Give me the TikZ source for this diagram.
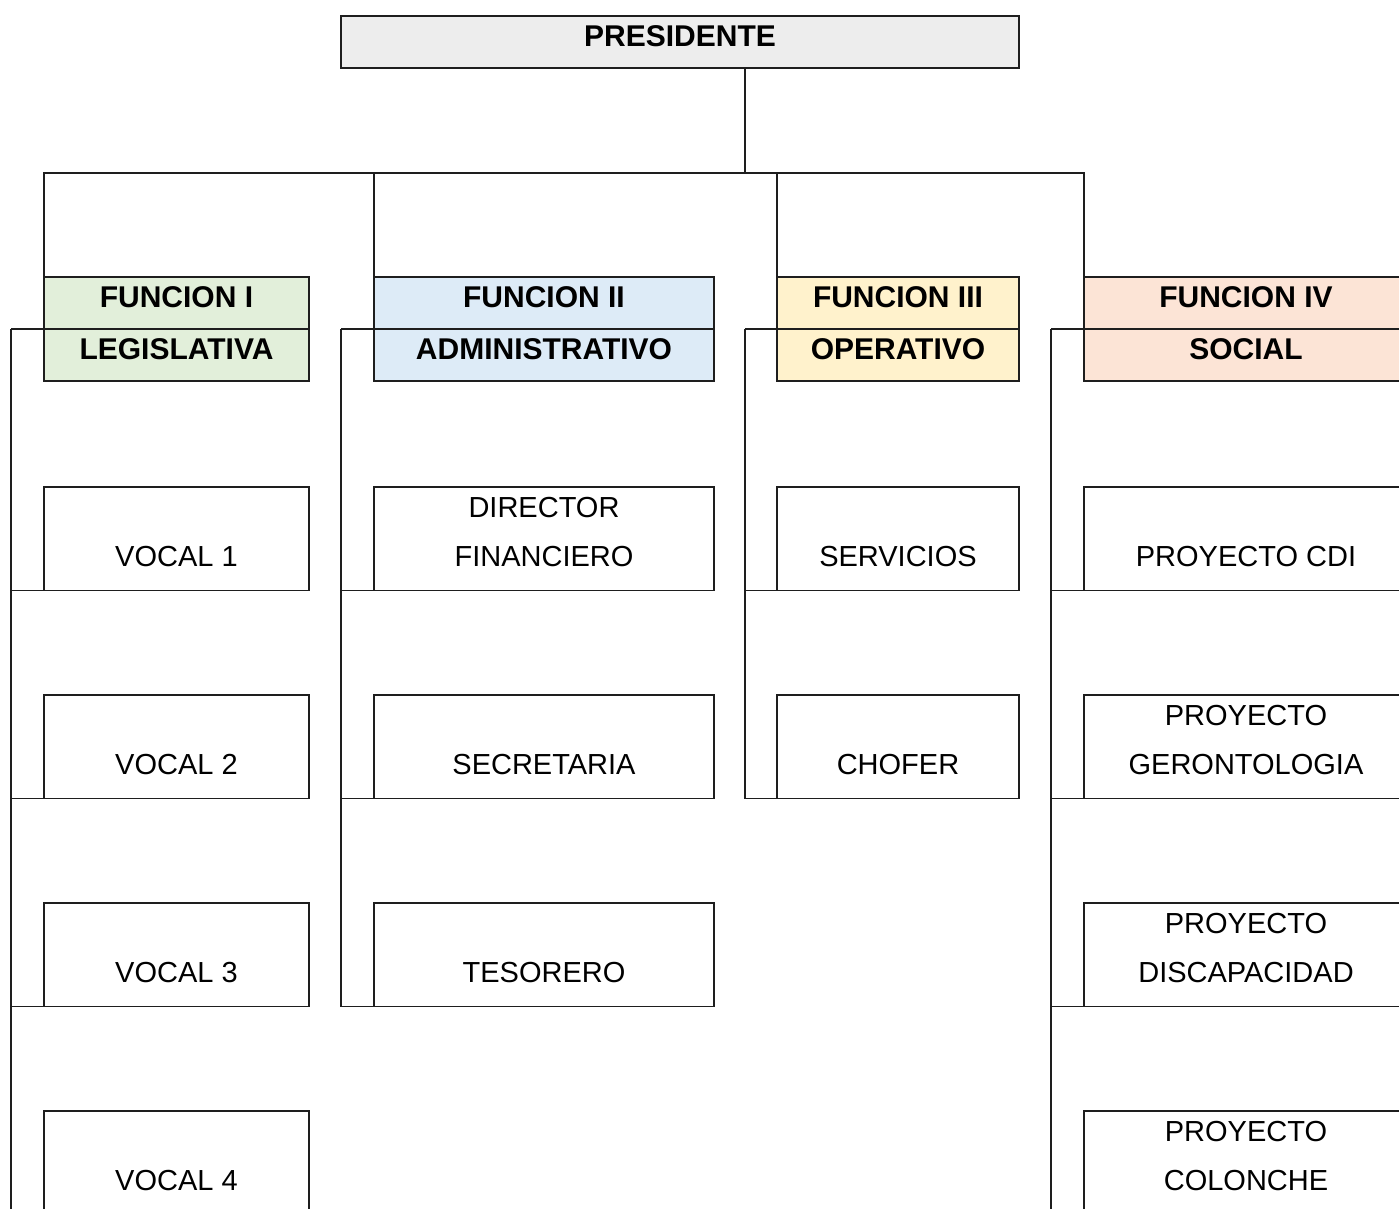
\documentclass[tikz,border=0pt]{standalone}
\usepackage{fontspec}
\setmainfont{Liberation Sans}
\usetikzlibrary{positioning}
\definecolor{presgray}{HTML}{EDEDED}
\definecolor{fungreen}{HTML}{E2EFDA}
\definecolor{funblue}{HTML}{DDEBF7}
\definecolor{funyellow}{HTML}{FFF2CC}
\definecolor{funpink}{HTML}{FCE4D6}
\definecolor{linegray}{HTML}{1E1E1E}
\tikzset{
	chief/.style={draw=linegray, rectangle, line width=1.8pt, outer sep=0pt, inner sep=2pt, minimum width=678pt, minimum height=52pt, fill=presgray, font=\bfseries\fontsize{30pt}{36pt}\selectfont, text height=22pt, text depth=13.2pt},
	funcion/.style={draw=linegray, rectangle, line width=1.8pt, outer sep=0pt, inner sep=2pt, minimum height=52pt, font=\bfseries\fontsize{30pt}{36pt}\selectfont, text height=22pt, text depth=13.2pt},
	% boxes of the people under each function
	cargo/.style={draw=linegray, rectangle, line width=1.8pt, outer sep=0pt, inner sep=2pt, minimum height=103.5pt, align=center, font=\fontsize{29pt}{49pt}\selectfont, text height=76pt, text depth=20pt},
	colI/.style={minimum width=265pt},
	colII/.style={minimum width=340pt},
	colIII/.style={minimum width=242pt},
	colIV/.style={minimum width=324pt},
}
\begin{document}
\begin{tikzpicture}[node distance=104.5pt]

\useasboundingbox (-680pt,42pt) rectangle (719pt,-1167pt);

\node (pres) [chief] {PRESIDENTE};

\node (funI) [funcion, colI, fill=fungreen, anchor=north west] at ([xshift=-297pt, yshift=-209pt]pres.south west) {FUNCION I};
\node (legis) [funcion, colI, fill=fungreen, below=0pt of funI] {LEGISLATIVA};

\node (funII) [funcion, colII, fill=funblue, right=65pt of funI] {FUNCION II};
\node (admin) [funcion, colII, fill=funblue, below=0pt of funII] {ADMINISTRATIVO};

\node (funIII) [funcion, colIII, fill=funyellow, right=63pt of funII] {FUNCION III};
\node (oper) [funcion, colIII, fill=funyellow, below=0pt of funIII] {OPERATIVO};

\node (funIV) [funcion, colIV, fill=funpink, right=65pt of funIII] {FUNCION IV};
\node (social) [funcion, colIV, fill=funpink, below=0pt of funIV] {SOCIAL};

\node (vocal1) [cargo, colI, below=106pt of legis] {VOCAL 1};
\node (vocal2) [cargo, colI, below=of vocal1] {VOCAL 2};
\node (vocal3) [cargo, colI, below=of vocal2] {VOCAL 3};
\node (vocal4) [cargo, colI, below=of vocal3] {VOCAL 4};

\node (director) [cargo, colII, below=106pt of admin] {DIRECTOR\\FINANCIERO};
\node (secre) [cargo, colII, below=of director] {SECRETARIA};
\node (teso) [cargo, colII, below=of secre] {TESORERO};

\node (serv) [cargo, colIII, below=106pt of oper] {SERVICIOS};
\node (chofer) [cargo, colIII, below=of serv] {CHOFER};

\node (cdi) [cargo, colIV, below=106pt of social] {PROYECTO CDI};
\node (geront) [cargo, colIV, below=of cdi] {PROYECTO\\GERONTOLOGIA};
\node (discap) [cargo, colIV, below=of geront] {PROYECTO\\DISCAPACIDAD};
\node (colonche) [cargo, colIV, below=of discap] {PROYECTO\\COLONCHE};

\coordinate (drop) at ([xshift=65pt]pres.south);
\coordinate (bus) at ([yshift=-105pt]drop);

\begin{scope}[line width=1.8pt, draw=linegray]
	\draw (drop) -- (bus);
	\foreach \f in {funI, funII, funIII, funIV}
		\draw (bus) -| (\f.north west);
	% trunks on the left of each column
	\draw (legis.north west) -- ++(-33pt,0) coordinate (trunkI);
	\foreach \c in {vocal1, vocal2, vocal3, vocal4}
		\draw (trunkI) |- (\c.south west);
	\draw (admin.north west) -- ++(-33pt,0) coordinate (trunkII);
	\foreach \c in {director, secre, teso}
		\draw (trunkII) |- (\c.south west);
	\draw (oper.north west) -- ++(-32pt,0) coordinate (trunkIII);
	\foreach \c in {serv, chofer}
		\draw (trunkIII) |- (\c.south west);
	\draw (social.north west) -- ++(-33pt,0) coordinate (trunkIV);
	\foreach \c in {cdi, geront, discap, colonche}
		\draw (trunkIV) |- (\c.south west);
\end{scope}
\end{tikzpicture}
\end{document}
